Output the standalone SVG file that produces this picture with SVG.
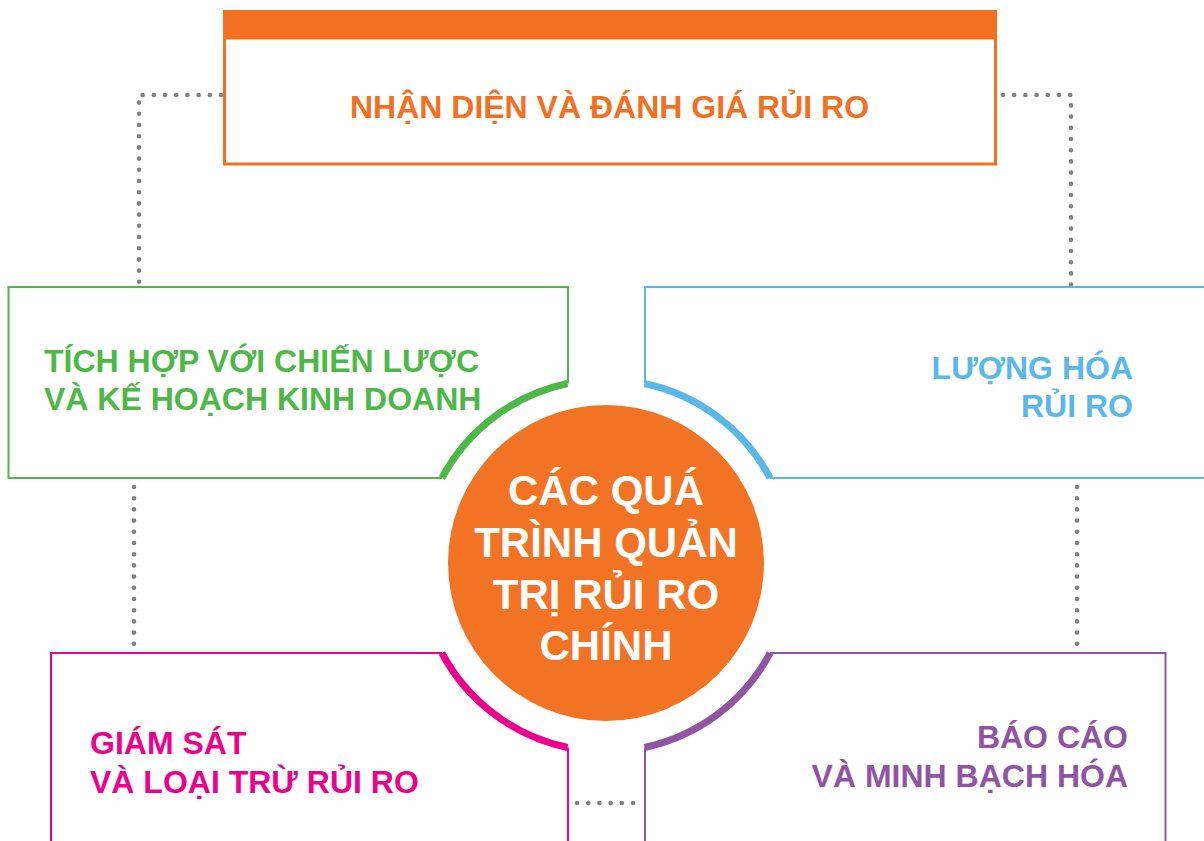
<svg xmlns="http://www.w3.org/2000/svg" width="1204" height="841" viewBox="0 0 1204 841">
<style>
text{font-family:"Liberation Sans",Arial,sans-serif;font-weight:bold;font-size:32px}
.dot{fill:none;stroke:#808086;stroke-width:4.6;stroke-linecap:round;stroke-dasharray:0 11.2}
.ln{fill:none;stroke-width:2}
.arc{fill:none;stroke-width:7}
.or{fill:#F37022}
</style>
<rect width="1204" height="841" fill="#fff"/>
<g id="connectors">
<path class="dot" d="M221 95 H139 V285"/>
<path class="dot" d="M1003 95 H1071 V285"/>
<path class="dot" d="M134 487 V652"/>
<path class="dot" d="M1077 487 V652"/>
<path class="dot" d="M577 803 H641"/>
</g>
<g id="top">
<rect x="223" y="10" width="774" height="29" fill="#F37022"/>
<rect x="224.5" y="38" width="771" height="126" fill="none" stroke="#F37022" stroke-width="3"/>
<text x="609.5" y="118" text-anchor="middle" fill="#F37022">NHẬN DIỆN VÀ ĐÁNH GIÁ RỦI RO</text>
</g>
<g id="green">
<path class="ln" stroke="#4DB848" d="M568 383.5 V287 H8.5 V478 H442"/>
<path class="arc" stroke="#4DB848" d="M567.5 383.5 A186 186 0 0 0 441.9 478"/>
<text x="44" y="372" fill="#4DB848">TÍCH HỢP VỚI CHIẾN LƯỢC</text>
<text x="44" y="410" fill="#4DB848">VÀ KẾ HOẠCH KINH DOANH</text>
</g>
<g id="blue">
<path class="ln" stroke="#5AB8E8" d="M645 383.5 V287 H1210 M770 478 H1210"/>
<path class="arc" stroke="#5AB8E8" d="M644.5 383.5 A186 186 0 0 1 770.1 478"/>
<text x="1133" y="379" text-anchor="end" fill="#5AB8E8">LƯỢNG HÓA</text>
<text x="1133" y="417" text-anchor="end" fill="#5AB8E8">RỦI RO</text>
</g>
<g id="pink">
<path class="ln" stroke="#EC008C" d="M442 653 H51 V850 M568 747.5 V850"/>
<path class="arc" stroke="#EC008C" d="M441.9 653 A186 186 0 0 0 567.5 747.5"/>
<text x="90" y="754" fill="#EC008C">GIÁM SÁT</text>
<text x="90" y="793" fill="#EC008C">VÀ LOẠI TRỪ RỦI RO</text>
</g>
<g id="purple">
<path class="ln" stroke="#8F55A3" d="M770 653 H1165.5 V850 M645 747.5 V850"/>
<path class="arc" stroke="#8F55A3" d="M770.1 653 A186 186 0 0 1 644.5 747.5"/>
<text x="1128" y="748" text-anchor="end" fill="#8F55A3">BÁO CÁO</text>
<text x="1128" y="787" text-anchor="end" fill="#8F55A3">VÀ MINH BẠCH HÓA</text>
</g>
<g id="center">
<circle cx="606" cy="563" r="158" fill="#F37324"/>
<g fill="#fff" text-anchor="middle" style="font-size:42px">
<text x="606" y="505" style="font-size:42px">CÁC QUÁ</text>
<text x="606" y="556.5" style="font-size:42px">TRÌNH QUẢN</text>
<text x="606" y="608.5" style="font-size:42px">TRỊ RỦI RO</text>
<text x="606" y="660" style="font-size:42px">CHÍNH</text>
</g>
</g>
</svg>
